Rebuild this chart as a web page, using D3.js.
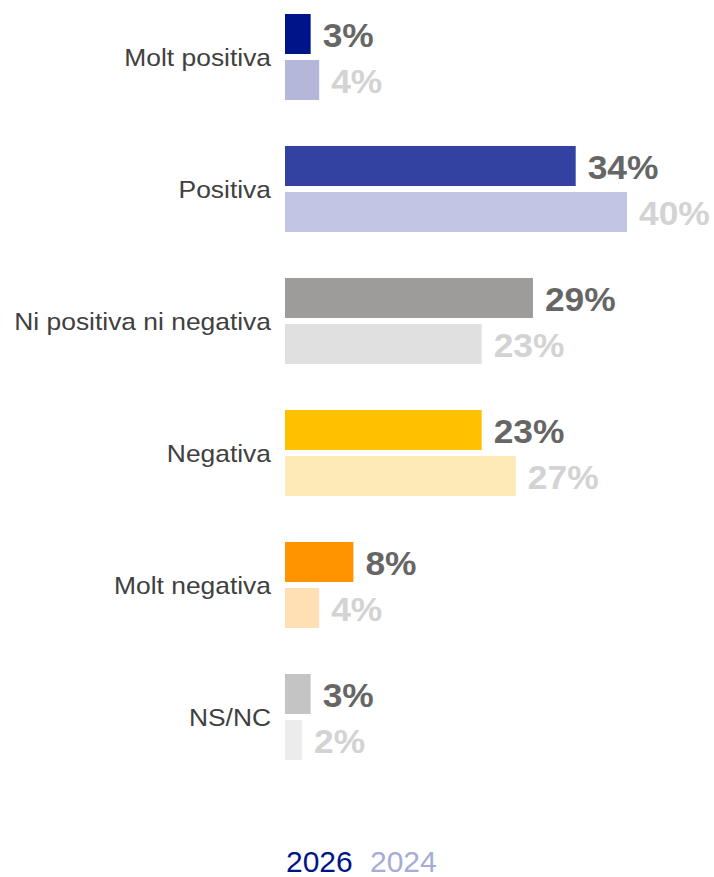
<!DOCTYPE html>
<meta charset="utf-8">
<style>
  body { margin: 0; background: #fff; }
  text { font-family: "Liberation Sans", Arial, sans-serif; }
  .cat { font-size: 24px; fill: #404040; }
  .val { font-size: 34px; font-weight: bold; }
  .legend text { font-size: 30px; }
</style>
<body>
<script src="https://cdn.jsdelivr.net/npm/d3@7"></script>
<script>

// data
var categories = ['Molt positiva', 'Positiva', 'Ni positiva ni negativa', 'Negativa', 'Molt negativa', 'NS/NC'];
var years = ['2026', '2024'];
var values2026 = [3, 34, 29, 23, 8, 3];
var values2024 = [4, 40, 23, 27, 4, 2];
var colors2026 = ['#001489', '#3341a1', '#9d9c9a', '#ffc000', '#ff9400', '#c4c4c4'];
var colors2024 = ['#b3b8db', '#c2c6e5', '#e0e0e0', '#feeab6', '#ffdfb3', '#ececec'];
var valueColors = { '2026': '#666666', '2024': '#d3d3d3' };
var legendColors = { '2026': '#001489', '2024': '#a6acd6' };

var width = 714, height = 877;
var x0 = 285;

var svg = d3.select('body').append('svg').attr('width', width).attr('height', height);

var x = d3.scaleLinear().domain([0, 40]).range([x0, 627]);
var y = d3.scaleBand().domain(categories).range([14, 760]).paddingInner(46 / 132).paddingOuter(0);
var yy = d3.scaleBand().domain(years).range([0, y.bandwidth()]).paddingInner(6 / 46);

var rows = categories.map(function (c, i) {
  return { cat: c, bars: [
    { year: '2026', value: values2026[i], color: colors2026[i] },
    { year: '2024', value: values2024[i], color: colors2024[i] }
  ] };
});

var g = svg.selectAll('g.row').data(rows).enter().append('g')
  .attr('class', 'row')
  .attr('transform', function (d) { return 'translate(0,' + y(d.cat) + ')'; });

// category labels
g.append('text')
  .attr('class', 'cat')
  .attr('text-anchor', 'end')
  .attr('transform', 'translate(271,' + (y.bandwidth() / 2 + 9) + ') scale(1.1,1)')
  .text(function (d) { return d.cat; });

var b = g.selectAll('g.bar').data(function (d) { return d.bars; }).enter().append('g').attr('class', 'bar');

b.append('rect')
  .attr('x', x(0))
  .attr('y', function (d) { return yy(d.year); })
  .attr('width', function (d) { return x(d.value) - x(0); })
  .attr('height', yy.bandwidth())
  .attr('fill', function (d) { return d.color; });

b.append('text')
  .attr('class', 'val')
  .attr('transform', function (d) {
    return 'translate(' + (x(d.value) + 12) + ',' + (yy(d.year) + yy.bandwidth() / 2 + 13) + ') scale(1.04,1)';
  })
  .attr('fill', function (d) { return valueColors[d.year]; })
  .text(function (d) { return d.value + '%'; });

// legend
var legend = svg.append('g').attr('class', 'legend').attr('transform', 'translate(286,872)');
legend.append('text').attr('x', 0).attr('fill', legendColors['2026']).text(years[0]);
legend.append('text').attr('x', 84).attr('fill', legendColors['2024']).text(years[1]);

</script>
</body>
</html>
